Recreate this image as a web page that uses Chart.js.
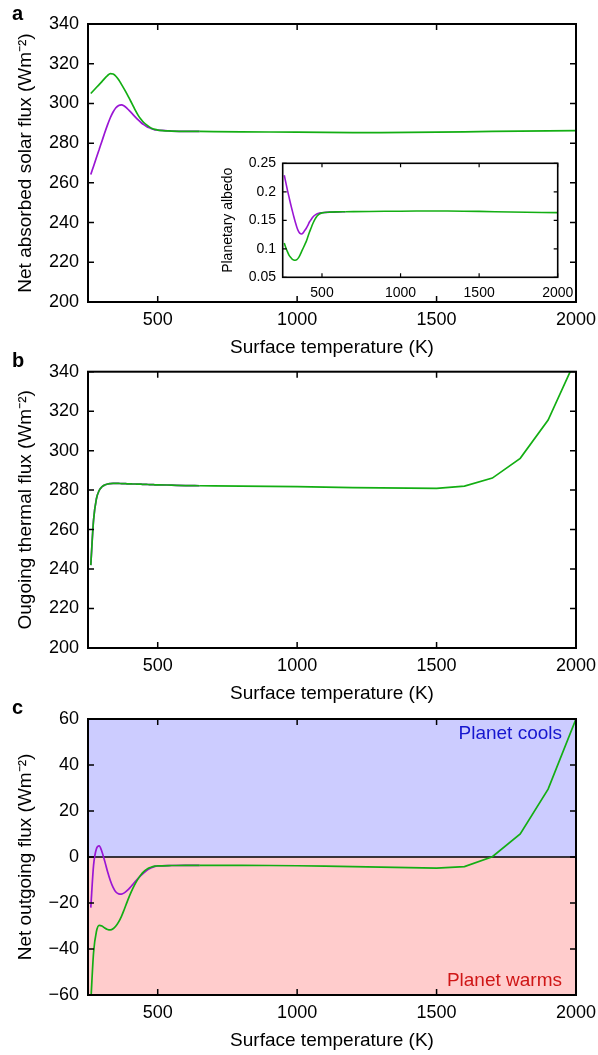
<!DOCTYPE html>
<html>
<head>
<meta charset="utf-8">
<script src="https://cdn.jsdelivr.net/npm/chart.js@4.4.1/dist/chart.umd.min.js"></script>
<style>
  html, body { margin: 0; padding: 0; background: #fff; }
  body { width: 598px; height: 1055px; position: relative; overflow: hidden; font-family: 'Liberation Sans', Arial, sans-serif; }
  canvas { position: absolute; }
  .tag { position: absolute; left: 12px; font-weight: bold; font-size: 20px; line-height: 20px; }
</style>
</head>
<body>
<canvas id="chartA" width="598" height="360" style="left:0;top:0"></canvas>
<canvas id="chartInset" width="390" height="155" style="left:200px;top:150px"></canvas>
<canvas id="chartB" width="598" height="350" style="left:0;top:360px"></canvas>
<canvas id="chartC" width="598" height="345" style="left:0;top:710px"></canvas>
<div class="tag" style="top:3px">a</div>
<div class="tag" style="top:350px">b</div>
<div class="tag" style="top:697px">c</div>
<script>
// surface temperature (K); fine steps up to 650 K, then every 100 K
const temps = [260, 270, 280, 290, 300, 310, 320, 330, 340, 350, 360, 370, 380, 390, 400, 410, 420, 430, 440, 450, 460, 470, 480, 490, 500,
  550, 600, 650, 700, 800, 900, 1000, 1100, 1200, 1300, 1400, 1500, 1600, 1700, 1800, 1900, 2000];
const FINE_END = 27; // index of 650 K

// a: net absorbed solar flux
const absorbedGreen = [305.0, 306.5, 308.0, 309.5, 311.0, 312.6, 314.0, 315.0, 314.8, 313.7, 311.9, 309.6, 307.2, 304.7, 302.0, 299.3, 296.5, 294.0, 292.0, 290.4, 289.2, 288.2, 287.4, 286.9, 286.6,
  286.1, 285.9, 285.9, 285.8, 285.7, 285.6, 285.5, 285.4, 285.3, 285.3, 285.4, 285.5, 285.7, 285.9, 286.1, 286.2, 286.3];
const absorbedPurple = [264.2, 268.4, 272.6, 276.8, 281.0, 285.2, 289.2, 292.8, 295.7, 297.8, 299.0, 299.3, 298.7, 297.5, 296.1, 294.6, 293.1, 291.7, 290.4, 289.3, 288.4, 287.7, 287.1, 286.7, 286.6,
  286.1, 285.9, 285.9];

// inset: planetary albedo
const albedoGreen = [0.110, 0.102, 0.095, 0.089, 0.085, 0.082, 0.0805, 0.080, 0.081, 0.084, 0.089, 0.095, 0.101, 0.107, 0.113, 0.121, 0.129, 0.136, 0.143, 0.149, 0.154, 0.158, 0.1605, 0.162, 0.163,
  0.1643, 0.1648, 0.165, 0.1652, 0.1655, 0.1658, 0.166, 0.1662, 0.1664, 0.1662, 0.166, 0.1656, 0.1651, 0.1646, 0.1641, 0.1637, 0.1634];
const albedoPurple = [0.229, 0.216, 0.203, 0.191, 0.179, 0.168, 0.157, 0.147, 0.138, 0.131, 0.127, 0.126, 0.128, 0.132, 0.136, 0.141, 0.147, 0.151, 0.155, 0.158, 0.160, 0.1615, 0.1625, 0.163, 0.1633,
  0.1643, 0.1648, 0.165];

// b: outgoing thermal flux
const thermalGreen = [242.0, 265.0, 275.5, 279.8, 281.7, 282.6, 283.1, 283.3, 283.4, 283.4, 283.4, 283.3, 283.3, 283.2, 283.2, 283.1, 283.1, 283.0, 283.0, 282.9, 282.9, 282.8, 282.8, 282.7, 282.7,
  282.5, 282.3, 282.2, 282.1, 282.0, 281.9, 281.8, 281.5, 281.3, 281.1, 281.0, 280.9, 282.0, 286.1, 296.1, 315.5, 346.5];
const thermalPurple = [242.0, 265.0, 275.5, 279.8, 281.7, 282.6, 283.1, 283.3, 283.4, 283.4, 283.4, 283.3, 283.3, 283.2, 283.2, 283.1, 283.1, 283.0, 283.0, 282.9, 282.9, 282.8, 282.8, 282.7, 282.7,
  282.5, 282.3, 282.2];

// c: net outgoing flux
const netGreen = [-63.0, -41.5, -32.5, -29.7, -30.0, -30.9, -31.5, -31.7, -31.2, -30.0, -28.2, -25.8, -22.8, -19.6, -16.6, -13.9, -11.5, -9.4, -7.7, -6.4, -5.4, -4.7, -4.3, -4.0, -3.9,
  -3.7, -3.6, -3.6, -3.6, -3.6, -3.7, -3.8, -4.0, -4.2, -4.4, -4.6, -4.8, -4.2, 0.1, 10.0, 29.5, 60.0];
const netPurple = [-22.0, -3.5, 3.5, 4.8, 2.3, -1.8, -6.3, -10.2, -13.2, -15.2, -16.0, -16.1, -15.6, -14.6, -13.4, -12.0, -10.6, -9.3, -8.0, -6.9, -5.9, -5.1, -4.5, -4.1, -3.9,
  -3.7, -3.6, -3.6];

const xTicks = [500, 1000, 1500, 2000];
const fluxTicks = [200, 220, 240, 260, 280, 300, 320, 340];
const albedoTicks = [0.05, 0.1, 0.15, 0.2, 0.25];
const netTicks = [-60, -40, -20, 0, 20, 40, 60];

const GREEN = '#13ae13';
const PURPLE = '#9a16d4';
const FONT = "'Liberation Sans', Arial, Helvetica, sans-serif";
Chart.defaults.font.family = FONT;
Chart.defaults.color = '#000';

const pts = (vals, from, to) => vals.slice(from, to).map((v, i) => ({ x: temps[from + i], y: v }));
const fmt = v => String(v).replace('-', '\u2212');

// gnuplot style frame with inward ticks on all four sides
const frameTicks = {
  id: 'frameTicks',
  afterDatasetsDraw(chart, args, o) {
    const { ctx, chartArea: a, scales: { x, y } } = chart;
    ctx.save();
    ctx.strokeStyle = '#000';
    ctx.lineWidth = o.tickWidth;
    ctx.beginPath();
    x.ticks.forEach(t => {
      const px = x.getPixelForValue(t.value);
      ctx.moveTo(px, a.bottom); ctx.lineTo(px, a.bottom - o.len);
      ctx.moveTo(px, a.top); ctx.lineTo(px, a.top + o.len);
    });
    y.ticks.forEach(t => {
      const py = y.getPixelForValue(t.value);
      ctx.moveTo(a.left, py); ctx.lineTo(a.left + o.len, py);
      ctx.moveTo(a.right, py); ctx.lineTo(a.right - o.len, py);
    });
    ctx.stroke();
    ctx.lineWidth = o.border;
    ctx.strokeRect(a.left, a.top, a.right - a.left, a.bottom - a.top);
    ctx.restore();
  }
};

// blue / red halves and the zero line of panel c
const bands = {
  id: 'bands',
  beforeDatasetsDraw(chart) {
    const { ctx, chartArea: a, scales: { y } } = chart;
    const zero = y.getPixelForValue(0);
    ctx.save();
    ctx.fillStyle = '#ccccff';
    ctx.fillRect(a.left, a.top, a.right - a.left, zero - a.top);
    ctx.fillStyle = '#ffcccc';
    ctx.fillRect(a.left, zero, a.right - a.left, a.bottom - zero);
    ctx.strokeStyle = '#000';
    ctx.lineWidth = 1.5;
    ctx.beginPath();
    ctx.moveTo(a.left, zero); ctx.lineTo(a.right, zero);
    ctx.stroke();
    ctx.restore();
  },
  afterDatasetsDraw(chart) {
    const { ctx, chartArea: a } = chart;
    ctx.save();
    ctx.font = '19px ' + FONT;
    ctx.textAlign = 'right';
    ctx.textBaseline = 'middle';
    ctx.fillStyle = '#1616cf';
    ctx.fillText('Planet cools', a.right - 14, a.top + 15);
    ctx.fillStyle = '#cf1616';
    ctx.fillText('Planet warms', a.right - 14, a.bottom - 14);
    ctx.restore();
  }
};

function panel(id, o) {
  const extra = o.extra ? [o.extra] : [];
  return new Chart(document.getElementById(id), {
    type: 'line',
    data: {
      datasets: [
        // smooth part of the green curve, then the coarse 100 K steps drawn straight
        { data: pts(o.green, 0, FINE_END + 1), borderColor: GREEN, cubicInterpolationMode: 'monotone' },
        { data: pts(o.green, FINE_END, o.green.length), borderColor: GREEN, tension: 0 },
        { data: pts(o.purple, 0, o.purple.length), borderColor: PURPLE, cubicInterpolationMode: 'monotone' }
      ]
    },
    options: {
      responsive: false,
      animation: false,
      events: [],
      layout: { padding: o.pad },
      elements: {
        point: { radius: 0 },
        line: { borderWidth: o.lw, fill: false }
      },
      plugins: {
        legend: { display: false },
        tooltip: { enabled: false },
        frameTicks: o.frame
      },
      scales: {
        x: {
          type: 'linear', min: 250, max: 2000,
          grid: { display: false, drawTicks: false },
          border: { display: false },
          afterBuildTicks: s => { s.ticks = xTicks.map(v => ({ value: v })); },
          afterFit: s => { s.height = o.xh; s.paddingLeft = 0; s.paddingRight = 0; },
          ticks: { font: { size: o.tickSize }, padding: o.xpad, maxRotation: 0, autoSkip: false, callback: fmt },
          title: o.xTitle ? { display: true, text: 'Surface temperature (K)', font: { size: 19 }, padding: { top: 0, bottom: o.xTitlePad } } : { display: false }
        },
        y: {
          min: o.yTicks[0], max: o.yTicks[o.yTicks.length - 1],
          grid: { display: false, drawTicks: false },
          border: { display: false },
          afterBuildTicks: s => { s.ticks = o.yTicks.map(v => ({ value: v })); },
          afterFit: s => { s.width = o.yw; s.paddingTop = 0; s.paddingBottom = 0; },
          ticks: { font: { size: o.tickSize }, padding: o.ypad, autoSkip: false, callback: fmt },
          title: { display: true, text: o.yTitle, font: { size: o.yTitleSize }, padding: { top: o.yTitlePad, bottom: 0 } }
        }
      }
    },
    plugins: [frameTicks].concat(extra)
  });
}

panel('chartA', {
  green: absorbedGreen, purple: absorbedPurple, yTicks: fluxTicks,
  pad: { left: 0, top: 24, right: 22, bottom: 0 }, xh: 58, yw: 88,
  tickSize: 18, xpad: 7.5, ypad: 9, lw: 1.7,
  xTitle: true, xTitlePad: 0.6,
  yTitle: 'Net absorbed solar flux (Wm\u207B\u00B2)', yTitleSize: 19, yTitlePad: 14,
  frame: { len: 6, tickWidth: 1.5, border: 2 }
});

panel('chartInset', {
  green: albedoGreen, purple: albedoPurple, yTicks: albedoTicks,
  pad: { left: 0, top: 13.3, right: 32.3, bottom: 0 }, xh: 27.7, yw: 82.7,
  tickSize: 14, xpad: 7.3, ypad: 6.7, lw: 1.6,
  xTitle: false,
  yTitle: 'Planetary albedo', yTitleSize: 14, yTitlePad: 19.6,
  frame: { len: 4, tickWidth: 1.2, border: 1.6 }
});

panel('chartB', {
  green: thermalGreen, purple: thermalPurple, yTicks: fluxTicks,
  pad: { left: 0, top: 11.7, right: 22, bottom: 0 }, xh: 62, yw: 88,
  tickSize: 18, xpad: 7.5, ypad: 9, lw: 1.7,
  xTitle: true, xTitlePad: 4.6,
  yTitle: 'Ougoing thermal flux (Wm\u207B\u00B2)', yTitleSize: 19, yTitlePad: 14,
  frame: { len: 6, tickWidth: 1.5, border: 2 }
});

panel('chartC', {
  green: netGreen, purple: netPurple, yTicks: netTicks,
  pad: { left: 0, top: 9, right: 22, bottom: 0 }, xh: 60, yw: 88,
  tickSize: 18, xpad: 7.5, ypad: 9, lw: 1.7,
  xTitle: true, xTitlePad: 2.6,
  yTitle: 'Net outgoing flux (Wm\u207B\u00B2)', yTitleSize: 19, yTitlePad: 14,
  frame: { len: 6, tickWidth: 1.5, border: 2 },
  extra: bands
});
</script>
</body>
</html>
